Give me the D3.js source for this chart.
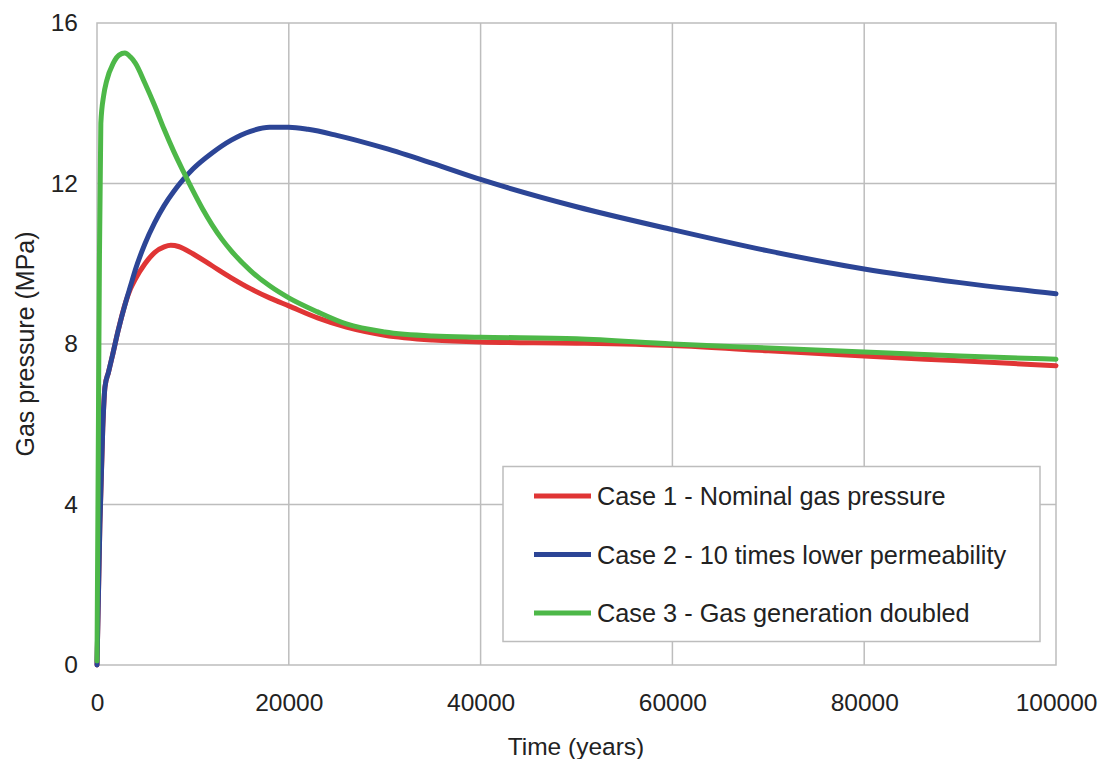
<!DOCTYPE html>
<html><head><meta charset="utf-8">
<script src="https://cdn.jsdelivr.net/npm/d3@7"></script>
<style>body{margin:0;background:#fff}svg{display:block}text{font-family:"Liberation Sans",Arial,sans-serif;fill:#222}</style>
</head><body>
<svg id="c" width="1102" height="759"></svg>
<script>
const xTicks = [0, 20000, 40000, 60000, 80000, 100000];
const yTicks = [0, 4, 8, 12, 16];
const seriesNames = ["Case 1 - Nominal gas pressure", "Case 2 - 10 times lower permeability", "Case 3 - Gas generation doubled"];
const seriesColors = ["#e03535", "#2c4596", "#4db848"];

const case1Time = [0,300,600,830,1200,1600,2200,3000,3500,4000,5000,6000,7000,7700,8500,9000,10000,12000,14000,16000,18000,20000,23000,26000,30000,35000,40000,50000,60000,70000,80000,90000,100000];
const case1Val  = [0,3.5,5.9,6.93,7.3,7.7,8.33,9.05,9.38,9.62,10.0,10.28,10.42,10.46,10.43,10.38,10.25,9.95,9.65,9.38,9.15,8.95,8.65,8.42,8.22,8.1,8.05,8.02,7.96,7.83,7.7,7.58,7.46];

const case2Time = [0,300,600,830,1200,1600,2200,3000,3500,4000,5000,6000,7000,8000,9000,10000,12000,14000,16000,18000,20000,22000,25000,30000,35000,40000,50000,60000,70000,80000,90000,100000];
const case2Val  = [0,3.5,5.9,6.93,7.3,7.7,8.33,9.05,9.45,9.85,10.5,11.02,11.45,11.8,12.1,12.36,12.76,13.08,13.3,13.4,13.4,13.35,13.2,12.88,12.5,12.1,11.42,10.85,10.32,9.87,9.53,9.25];

const case3Time = [0,100,250,400,700,1000,1700,2300,2900,3500,4000,5000,6000,7000,8000,9000,10000,11000,12000,13000,14000,16000,18000,20000,23000,26000,30000,35000,40000,50000,60000,70000,80000,90000,100000];
const case3Val  = [0.1,4,10,13.5,14.2,14.55,15.0,15.2,15.25,15.15,15.0,14.5,13.95,13.35,12.8,12.3,11.82,11.37,10.97,10.62,10.32,9.83,9.45,9.15,8.8,8.5,8.3,8.2,8.17,8.13,8.0,7.9,7.8,7.7,7.62];

const svg = d3.select("#c");
const L = 97, R = 1056, T = 23, B = 665;
const x = d3.scaleLinear().domain([0, 100000]).range([L, R]);
const y = d3.scaleLinear().domain([0, 16]).range([B, T]);

// grid
svg.append("g").selectAll("line").data(xTicks.slice(1, -1)).join("line")
  .attr("x1", d => x(d)).attr("x2", d => x(d)).attr("y1", T).attr("y2", B)
  .attr("stroke", "#bdbdbd").attr("stroke-width", 1.5);
svg.append("g").selectAll("line").data(yTicks.slice(1, -1)).join("line")
  .attr("y1", d => y(d)).attr("y2", d => y(d)).attr("x1", L).attr("x2", R)
  .attr("stroke", "#bdbdbd").attr("stroke-width", 1.5);
svg.append("rect").attr("x", L).attr("y", T).attr("width", R - L).attr("height", B - T)
  .attr("fill", "none").attr("stroke", "#bdbdbd").attr("stroke-width", 1.5);

// axes (labels only)
const xAxis = d3.axisBottom(x).tickValues(xTicks).tickFormat(d3.format("d")).tickSize(0).tickPadding(29);
const gx = svg.append("g").attr("transform", `translate(0,${B})`).call(xAxis);
gx.select(".domain").remove();
gx.selectAll("text").style("font-size", "24.5px").attr("fill", "#222");
const yAxis = d3.axisLeft(y).tickValues(yTicks).tickFormat(d3.format("d")).tickSize(0).tickPadding(19);
const gy = svg.append("g").attr("transform", `translate(${L},0)`).call(yAxis);
gy.select(".domain").remove();
gy.selectAll("text").style("font-size", "24.5px").attr("fill", "#222");

svg.append("text").attr("x", 576).attr("y", 755).attr("text-anchor", "middle")
  .style("font-size", "24.5px").text("Time (years)");
svg.append("text").attr("transform", `translate(34,344) rotate(-90)`).attr("text-anchor", "middle")
  .style("font-size", "25px").text("Gas pressure (MPa)");

// lines
const data = [
  case1Time.map((t, i) => [t, case1Val[i]]),
  case2Time.map((t, i) => [t, case2Val[i]]),
  case3Time.map((t, i) => [t, case3Val[i]])
];
const line = d3.line().x(d => x(d[0])).y(d => y(d[1])).curve(d3.curveMonotoneX);
[0, 1, 2].forEach(i => {
  svg.append("path").datum(data[i]).attr("d", line).attr("fill", "none")
    .attr("stroke", seriesColors[i]).attr("stroke-width", 5).attr("stroke-linejoin", "round").attr("stroke-linecap", "round");
});

// legend
const lg = svg.append("g");
lg.append("rect").attr("x", 503).attr("y", 466.5).attr("width", 537).attr("height", 175)
  .attr("fill", "#fff").attr("stroke", "#bdbdbd").attr("stroke-width", 1.5);
seriesNames.forEach((n, i) => {
  const yy = 496 + i * 58.5;
  lg.append("line").attr("x1", 534).attr("x2", 591).attr("y1", yy).attr("y2", yy)
    .attr("stroke", seriesColors[i]).attr("stroke-width", 5);
  lg.append("text").attr("x", 597).attr("y", yy + 9).style("font-size", "25.3px").text(n);
});
</script>
</body></html>
